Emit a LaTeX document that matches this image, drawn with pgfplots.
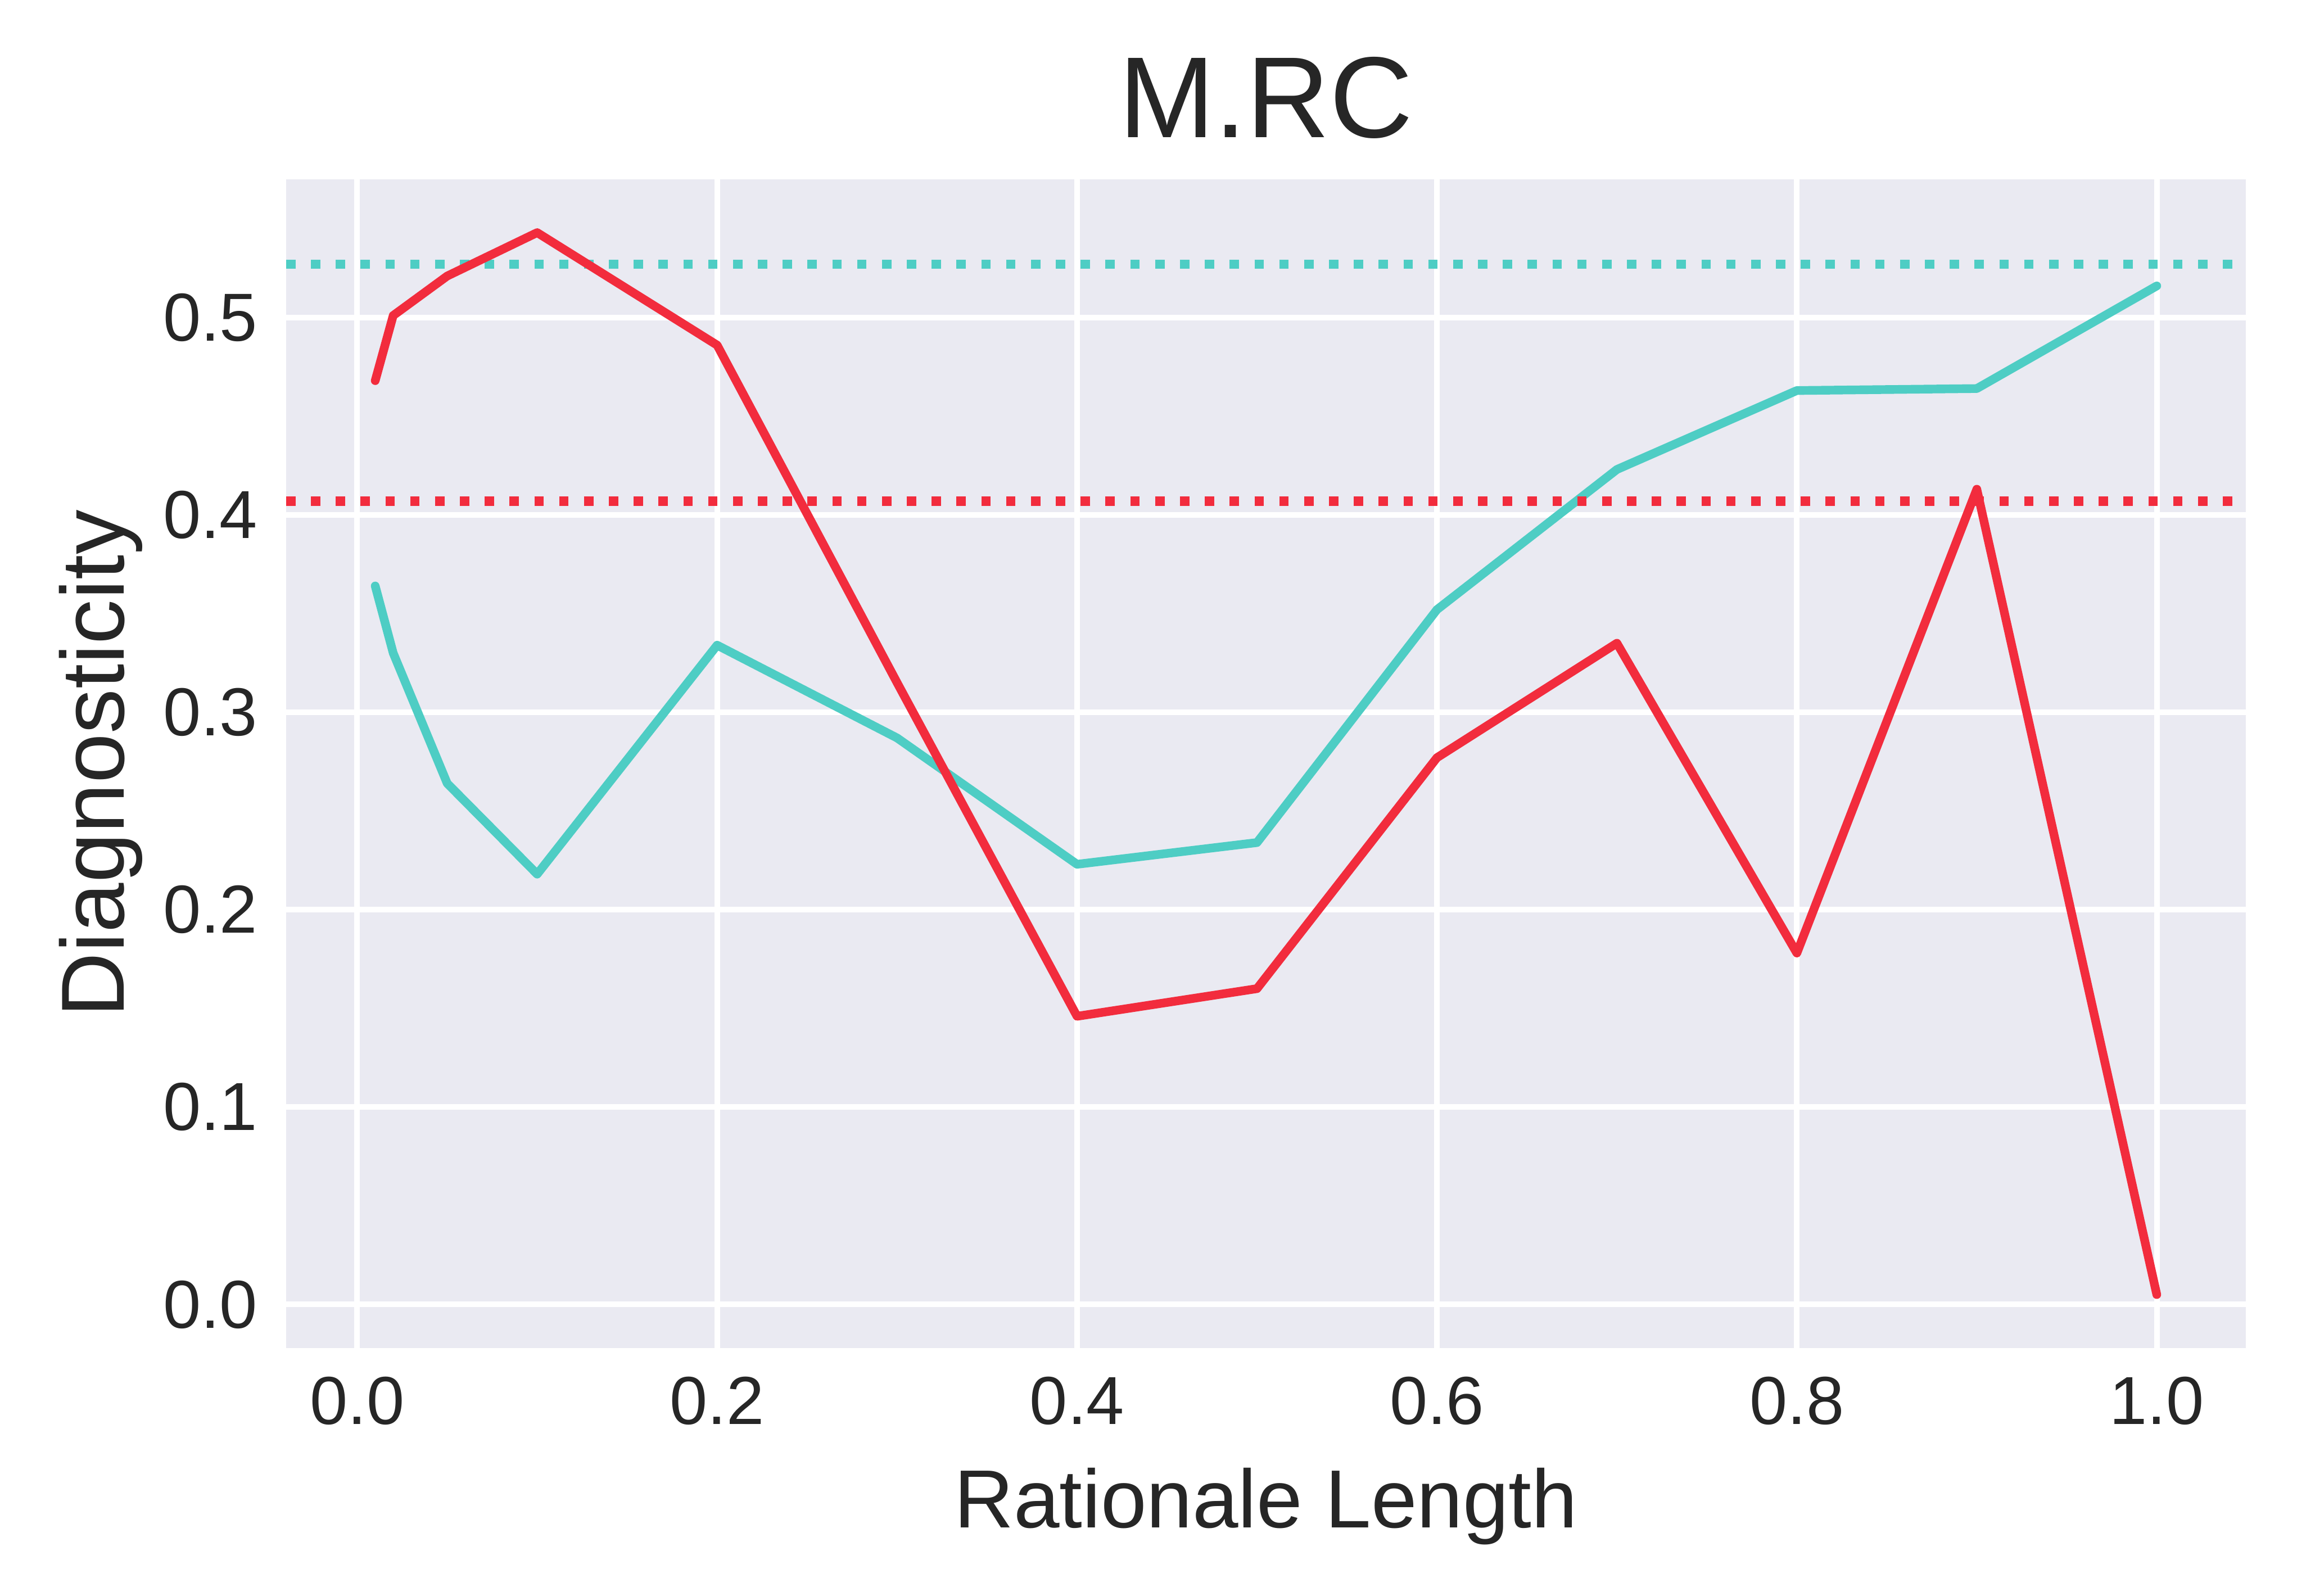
\documentclass[border=0pt]{standalone}
\usepackage{pgfplots}
\pgfplotsset{compat=1.18}
\usepackage{fontspec}
\setmainfont{Liberation Sans}
\definecolor{bgc}{HTML}{EAEAF2}
\definecolor{txt}{HTML}{262626}
\definecolor{teal1}{HTML}{4ECDC4}
\definecolor{red1}{HTML}{F22C3D}
\begin{document}
\begin{tikzpicture}
\useasboundingbox (-61.08pt,-52.84pt) rectangle (429.24pt,287.72pt);
\begin{axis}[
  scale only axis,
  width=418.32pt, height=249.44pt,
  at={(0,0)}, anchor=south west,
  xmin=-0.0395, xmax=1.0495,
  ymin=-0.022, ymax=0.570,
  axis background/.style={fill=bgc},
  axis line style={draw=none},
  grid=major,
  major grid style={white, line width=1.2pt, line cap=butt},
  tick style={draw=none},
  xtick={0,0.2,0.4,0.6,0.8,1.0},
  ytick={0,0.1,0.2,0.3,0.4,0.5},
  /pgf/number format/assume math mode=true,
  xticklabel style={/pgf/number format/.cd, fixed, precision=1, zerofill, /tikz/.cd, anchor=base, inner sep=0pt, yshift=-16.3pt, font=\fontsize{14.5pt}{17pt}\selectfont, text=txt},
  yticklabel style={/pgf/number format/.cd, fixed, precision=1, zerofill, /tikz/.cd, anchor=east, inner sep=0pt, xshift=-5.9pt, font=\fontsize{14.5pt}{17pt}\selectfont, text=txt},
  xlabel={Rationale Length},
  ylabel={Diagnosticity},
  title={M.RC},
  every axis x label/.style={at={(axis description cs:0.5,0)}, anchor=base, inner sep=0pt, yshift=-38.4pt, font=\fontsize{17.6pt}{21pt}\selectfont, text=txt},
  every axis y label/.style={at={(axis description cs:0,0.5)}, xshift=-34.6pt, rotate=90, anchor=base, inner sep=0pt, font=\fontsize{19.1pt}{23pt}\selectfont, text=txt},
  every axis title/.style={at={(axis description cs:0.5,1)}, anchor=base, inner sep=0pt, yshift=8.96pt, font=\fontsize{24.6pt}{29pt}\selectfont, text=txt},
]
\addplot[teal1, line width=1.85pt, line cap=round, line join=round] coordinates {
(0.01,0.364) (0.02,0.330) (0.05,0.264) (0.1,0.218) (0.2,0.334) (0.3,0.287)
(0.4,0.223) (0.5,0.234) (0.6,0.352) (0.7,0.423) (0.8,0.463) (0.9,0.464) (1.0,0.516)};
\addplot[teal1, line width=2.0pt, line cap=butt, dash pattern=on 2.0pt off 3.3pt] coordinates {(-0.0395,0.527) (1.0495,0.527)};
\addplot[red1, line width=1.85pt, line cap=round, line join=round] coordinates {
(0.01,0.468) (0.02,0.501) (0.05,0.521) (0.1,0.543) (0.2,0.486) (0.3,0.315)
(0.4,0.146) (0.5,0.160) (0.6,0.277) (0.7,0.335) (0.8,0.178) (0.9,0.413) (1.0,0.005)};
\addplot[red1, line width=2.0pt, line cap=butt, dash pattern=on 2.0pt off 3.3pt] coordinates {(-0.0395,0.407) (1.0495,0.407)};
\end{axis}
\end{tikzpicture}
\end{document}
